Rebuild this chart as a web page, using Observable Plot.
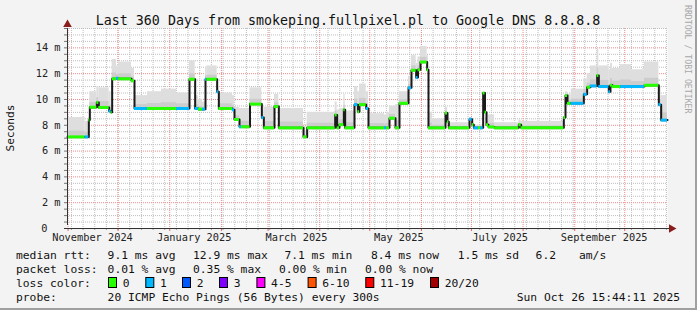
<!DOCTYPE html>
<html><head><meta charset="utf-8">
<script src="https://cdn.jsdelivr.net/npm/d3@7"></script>
<script src="https://cdn.jsdelivr.net/npm/@observablehq/plot@0.6"></script>
<style>body{margin:0;background:#f3f3f3}svg{display:block}</style>
</head><body><div id="chart"></div>
<script>
// ---------- data ----------
const title = "Last 360 Days from smokeping.fullpixel.pl to Google DNS 8.8.8.8";
const yAxisTitle = "Seconds";
const watermark = "RRDTOOL / TOBI OETIKER";
// days after the start of the graph window (2024-10-31 15:44:11)
const segDay = [0.0,10.6,12.8,13.4,17.6,18.8,25.0,26.2,26.8,29.4,30.6,38.4,40.2,48.0,56.4,65.4,73.2,76.6,78.6,81.0,82.8,83.6,89.8,90.8,99.0,100.2,103.2,104.4,109.5,116.6,117.8,124.2,126.8,141.6,143.8,160.6,161.8,163.2,165.8,166.6,172.2,174.2,175.2,179.2,180.6,190.2,191.4,193.2,196.8,199.2,204.6,206.4,209.2,210.3,211.8,215.8,216.6,219.0,226.8,228.0,228.8,241.2,242.8,243.8,246.6,247.8,249.4,250.5,251.4,252.6,256.2,270.8,272.2,297.8,298.8,300.0,302.2,309.8,311.8,313.8,317.8,318.8,324.8,325.8,327.0,331.8,338.4,346.2,354.8,356.2];
// median RTT per segment, ms
const median = [7.1,7.1,8.4,9.4,9.77,9.38,9.1,9.0,11.6,11.65,11.6,11.45,9.3,9.3,9.3,9.3,11.57,9.3,9.25,9.25,11.57,11.57,10.6,9.3,9.2,8.45,7.88,7.88,9.64,8.6,7.8,9.45,7.8,7.1,7.8,8.8,7.8,8.05,9.2,7.8,9.6,9.05,9.6,9.3,7.8,7.8,7.8,8.55,7.8,9.7,10.9,12.26,11.7,12.3,12.9,12.3,7.8,7.8,8.95,8.27,7.8,8.47,8.05,7.8,7.8,7.8,10.5,9.0,8.05,7.87,7.8,8.05,7.8,8.6,10.3,9.7,9.7,10.4,10.95,11.05,11.86,11.0,10.6,11.1,11.0,11.0,11.0,11.1,9.6,8.4];
// packet loss class per segment (index into lossColors)
const loss = [0,1,0,0,0,0,1,0,0,1,0,0,1,0,0,1,0,1,0,1,1,0,1,0,1,0,1,0,0,1,0,0,0,0,0,0,0,0,0,0,1,0,0,1,0,1,0,0,0,0,1,0,1,0,0,0,0,0,0,0,0,1,0,1,0,1,0,0,0,0,0,0,0,0,0,0,1,1,0,1,0,1,1,0,0,1,1,0,1,1];
// top of the smoke (slowest ping) per segment, ms
const smokeHi = [8.6,8.3,8.6,10.6,11.0,10.9,10.6,9.4,13.1,12.6,12.9,12.4,10.3,10.6,10.8,10.5,13.0,10.3,10.0,9.8,12.5,12.6,11.0,10.5,10.3,9.4,9.3,9.3,10.9,9.2,9.4,10.4,9.3,7.6,9.0,9.8,9.2,9.3,10.4,9.1,11.0,10.6,11.2,10.6,8.9,8.8,9.0,9.5,9.6,10.6,11.8,13.4,12.8,13.3,14.1,13.4,9.0,8.5,9.4,8.6,8.2,8.6,8.3,8.0,8.0,8.0,10.5,10.0,9.0,8.8,8.2,8.4,8.3,8.6,10.6,10.4,10.8,11.6,12.0,12.6,13.9,12.6,12.3,12.8,12.4,12.7,12.3,12.9,11.0,10.3];
const yLabelValues = [2,4,6,8,10,12,14];
const yZeroLabel = [0];
const xTickDays = [15,76,137.4,198.8,259.6,322];
const xTickLabels = ["November 2024","January 2025","March 2025","May 2025","July 2025","September 2025"];
const lossColors = ["#26ff00","#00b8ff","#0059ff","#7e00ff","#ff00ff","#ff5500","#ff0000","#a10000"];
const lossLabels = ["0","1","2","3","4-5","6-10","11-19","20/20"];
const rowLabels = ["median rtt:","packet loss:","loss color:","probe:"];
const rttStats = ["9.1 ms avg","12.9 ms max","7.1 ms min","8.4 ms now","1.5 ms sd","6.2","am/s"];
const lossStats = ["0.01 % avg","0.35 % max","0.00 % min","0.00 % now"];
const probeText = "20 ICMP Echo Pings (56 Bytes) every 300s";
const stampText = "Sun Oct 26 15:44:11 2025";

// ---------- build ----------
const t0 = Date.UTC(2024, 9, 31, 15, 44, 11);
const spanDays = 360;
const toDate = d => new Date(t0 + d * 864e5);
const tStart = toDate(0), tEnd = toDate(spanDays);
const n = segDay.length;
const segs = segDay.map((d, i) => ({
  t1: toDate(d), t2: toDate(i < n - 1 ? segDay[i + 1] : spanDays),
  median: median[i], loss: loss[i], hi: smokeHi[i],
  lo: median[i] - 0.15,
  mid: median[i] + 0.3 * (smokeHi[i] - median[i])
}));
const linePts = segs.map(s => ({t: s.t1, v: s.median})).concat([{t: tEnd, v: median[n - 1]}]);

const yMax = 15.5;
const minorY = d3.range(0.5, yMax + 0.01, 0.5).filter(v => v % 2 !== 0);
const majorY = d3.range(2, yMax, 2);
const weeks = d3.utcSunday.range(tStart, tEnd);
const months = d3.utcMonth.range(tStart, tEnd);
const mono = "DejaVu Sans Mono";

const chart = Plot.plot({
  width: 697, height: 310,
  marginLeft: 67, marginRight: 30, marginTop: 28, marginBottom: 82,
  x: {type: "utc", domain: [tStart, tEnd], axis: null},
  y: {domain: [0, yMax], axis: null},
  style: {background: "#f3f3f3", fontFamily: mono, color: "#222"},
  marks: [
    Plot.frame({fill: "white", stroke: null}),
    Plot.ruleX(weeks, {stroke: "#bdbdbd", strokeDasharray: "1,1"}),
    Plot.ruleY(minorY, {stroke: "#bdbdbd", strokeDasharray: "1,1"}),
    Plot.ruleX(months, {stroke: "#f08a8a", strokeDasharray: "1,1"}),
    Plot.ruleY(majorY, {stroke: "#f08a8a", strokeDasharray: "1,1"}),
    Plot.rect(segs, {x1: "t1", x2: "t2", y1: "lo", y2: "hi", fill: "#dedede"}),
    Plot.rect(segs, {x1: "t1", x2: "t2", y1: "lo", y2: "mid", fill: "#cdcdcd"}),
    Plot.line(linePts, {x: "t", y: "v", curve: "step-after", stroke: "#1a1a1a", strokeWidth: 2}),
    Plot.ruleY(segs, {y: "median", x1: "t1", x2: "t2", stroke: d => lossColors[d.loss], strokeWidth: 3}),
    // axes ticks
    Plot.axisY(d3.range(0, yMax + 0.01, 0.5), {tickSize: 3, tickFormat: () => "", stroke: "#777"}),
    Plot.axisY(yLabelValues, {tickSize: 0, tickPadding: 7, fontSize: 10.3, fontFamily: mono,
      tickFormat: d => d + " m"}),
    Plot.axisY(yZeroLabel, {tickSize: 0, tickPadding: 20, fontSize: 10.3, fontFamily: mono,
      tickFormat: d => String(d)}),
    Plot.axisX(weeks, {tickSize: 2, tickFormat: () => "", stroke: "#999"}),
    Plot.axisX(months, {tickSize: 3, tickFormat: () => "", stroke: "#e06060"}),
    Plot.axisX(xTickDays.map(toDate), {tickSize: 0, tickPadding: 5, fontSize: 10.3, fontFamily: mono,
      tickFormat: (d, i) => xTickLabels[i]}),
    // axis lines with arrows
    Plot.ruleX([tStart], {y1: 0, y2: yMax, insetTop: -3, stroke: "#333", strokeWidth: 1}),
    Plot.ruleY([0], {x1: tStart, x2: tEnd, insetRight: -2, insetLeft: -3, stroke: "#333", strokeWidth: 1}),
    Plot.dot([tStart], {x: d => d, y: yMax, dy: -4, symbol: "triangle", r: 3.2, fill: "#8b1c1c", stroke: null}),
    Plot.dot([tEnd], {x: d => d, y: 0, dx: 4, symbol: "triangle", rotate: 90, r: 3.2, fill: "#8b1c1c", stroke: null})
  ]
});

const svg = d3.select(chart);
svg.style("font-family", mono);
// title
svg.append("text").attr("x", 348).attr("y", 24.5).attr("text-anchor", "middle")
  .attr("font-size", 13.3).attr("fill", "#111").text(title);
// y axis title
svg.append("text").attr("transform", "translate(14,128) rotate(-90)").attr("text-anchor", "middle")
  .attr("font-size", 11.2).attr("fill", "#111").text(yAxisTitle);
// watermark
svg.append("text").attr("transform", "translate(685,5) rotate(90)").attr("text-anchor", "start")
  .attr("font-size", 8.2).attr("fill", "#a8a8a8").text(watermark);
// legend
const fs = 11.3, lx = 16, rows = [258.5, 272.5, 286.5, 300.5];
const g = svg.append("g").attr("font-size", fs).attr("fill", "#111").attr("text-anchor", "start");
rowLabels.forEach((t, i) => g.append("text").attr("x", lx).attr("y", rows[i]).text(t));
const rttX = [107.6, 193, 284.4, 371, 457.8, 535.6, 579];
rttStats.forEach((t, i) => g.append("text").attr("x", rttX[i]).attr("y", rows[0]).text(t));
const lossX = [107.6, 193, 279, 365];
lossStats.forEach((t, i) => g.append("text").attr("x", lossX[i]).attr("y", rows[1]).text(t));
const boxX = [108, 145.3, 182, 219, 256.4, 307.6, 365.3, 430];
lossColors.forEach((c, i) => {
  g.append("rect").attr("x", boxX[i] + 0.5).attr("y", 277.5).attr("width", 8).attr("height", 10)
    .attr("fill", c).attr("stroke", "#000").attr("stroke-width", 1);
  g.append("text").attr("x", boxX[i] + 14.7).attr("y", rows[2]).text(lossLabels[i]);
});
g.append("text").attr("x", 107.6).attr("y", rows[3]).text(probeText);
g.append("text").attr("x", 680).attr("y", rows[3]).attr("text-anchor", "end").text(stampText);
// border
svg.append("rect").attr("x", 695).attr("y", 0).attr("width", 2).attr("height", 310).attr("fill", "#a0a0a0");
svg.append("rect").attr("x", 0).attr("y", 308).attr("width", 697).attr("height", 2).attr("fill", "#a0a0a0");

document.getElementById("chart").appendChild(chart);
</script>
</body></html>
